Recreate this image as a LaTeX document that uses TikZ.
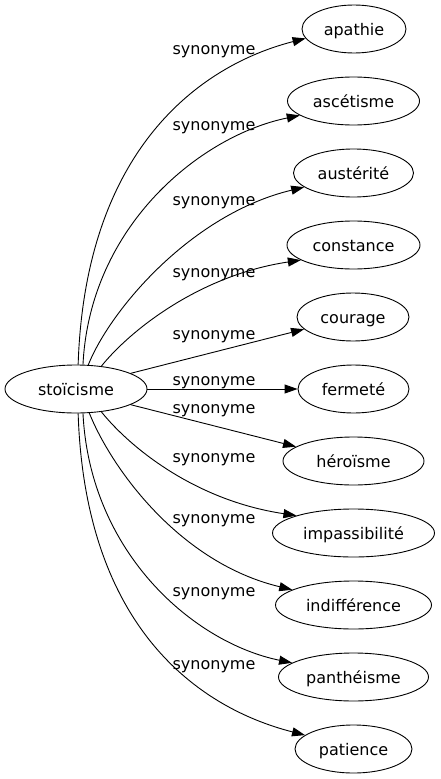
\documentclass[tikz,border=0pt]{standalone}
\usepackage{fontspec}
\setmainfont{DejaVu Sans}
\usetikzlibrary{shapes.geometric,arrows.meta}
\begin{document}
\begin{tikzpicture}[x=1pt,y=-1pt,
  word/.style={draw, ellipse, inner sep=0pt, minimum height=48pt, text height=12pt, text depth=0pt, font=\fontsize{16}{19}\selectfont, line width=0.9pt},
  rel/.style={font=\fontsize{16}{19}\selectfont, inner sep=0pt, anchor=base},
  link/.style={-{Triangle[length=13pt,width=9pt]}, line width=0.9pt}]
\useasboundingbox (0,0) rectangle (441,779);
\node[word, minimum width=142pt] (src) at (76,389) {stoïcisme};
\node[word, minimum width=104pt] (apa) at (354,29) {apathie};
\node[word, minimum width=132pt] (asc) at (353.5,101) {ascétisme};
\node[word, minimum width=120pt] (aus) at (353.5,173) {austérité};
\node[word, minimum width=133pt] (con) at (353.5,245) {constance};
\node[word, minimum width=112pt] (cou) at (353,317) {courage};
\node[word, minimum width=111pt] (fer) at (353.5,389) {fermeté};
\node[word, minimum width=141pt] (her) at (353.5,461) {héroïsme};
\node[word, minimum width=162pt] (imp) at (353.5,533) {impassibilité};
\node[word, minimum width=156pt] (ind) at (353.5,605) {indifférence};
\node[word, minimum width=150pt] (pan) at (353.5,677) {panthéisme};
\node[word, minimum width=117pt] (pat) at (353.5,749) {patience};

\node[rel] (l1) at (214,54.5) {synonyme};
\node[rel] (l2) at (214,130.5) {synonyme};
\node[rel] (l3) at (214,205.5) {synonyme};
\node[rel] (l4) at (214,277.5) {synonyme};
\node[rel] (l5) at (214,339.5) {synonyme};
\node[rel] (l6) at (214,385) {synonyme};
\node[rel] (l7) at (214,413) {synonyme};
\node[rel] (l8) at (214,462.5) {synonyme};
\node[rel] (l9) at (214,523.5) {synonyme};
\node[rel] (l10) at (214,596.5) {synonyme};
\node[rel] (l11) at (214,669.5) {synonyme};

\draw[link] (src.85) .. controls +(7,-215) and +(-106,27) .. (apa.191);
\draw[link] (src.74) .. controls +(7,-140) and +(-98,20) .. (asc.195);
\draw[link] (src.63) .. controls +(22,-55) and +(-113,27) .. (aus.196);
\draw[link] (src.42) .. controls +(29,-36) and +(-101,15) .. (con.196);
\draw[link] (src.16) -- (cou.194);
\draw[link] (src.east) -- (fer.west);
\draw[link] (src.-16) -- (her.166);
\draw[link] (src.-42) .. controls +(29,36) and +(-101,-15) .. (imp.163);
\draw[link] (src.-61) .. controls +(22,55) and +(-113,-27) .. (ind.166);
\draw[link] (src.-74) .. controls +(7,140) and +(-98,-20) .. (pan.167);
\draw[link] (src.-85) .. controls +(7,215) and +(-106,-27) .. (pat.164);
\end{tikzpicture}
\end{document}
